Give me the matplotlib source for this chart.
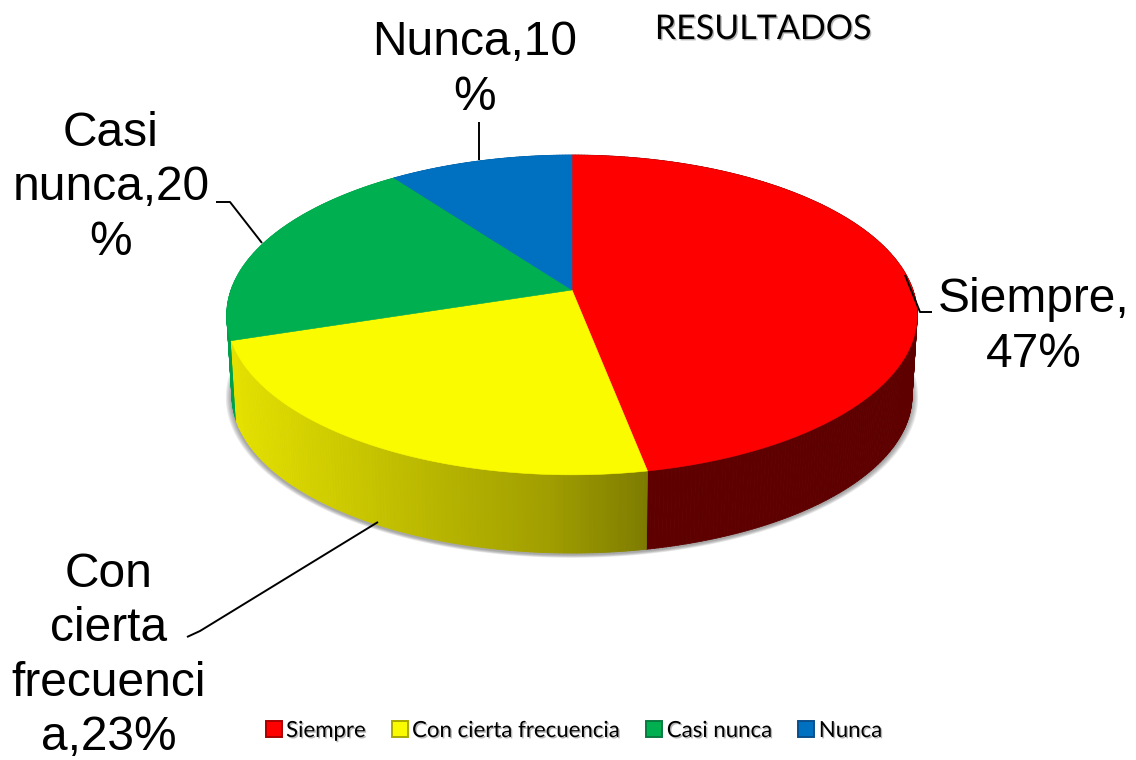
import numpy as np
import matplotlib
matplotlib.use("Agg")
import matplotlib.pyplot as plt
from matplotlib.patches import Patch, Polygon
from matplotlib.collections import PolyCollection
import matplotlib.patheffects as pe

categories = ["Siempre", "Con cierta frecuencia", "Casi nunca", "Nunca"]
shares = [47, 23, 20, 10]
top_colors = ["#fe0000", "#fbfb00", "#00b050", "#0070c0"]
legend_edges = ["#a80000", "#a8a800", "#0a7a40", "#0a4f8c"]
label_lines = ["Siempre,\n47%", "Con\ncierta\nfrecuenci\na,23%", "Casi\nnunca,20\n%", "Nunca,10\n%"]
label_pos = [(1034, 327), (109, 656), (111, 188), (475, 70)]
leaders = [[(905, 275), (920, 312), (932, 312)],
           [(187, 637), (200, 631), (378, 522)],
           [(216, 202), (230, 202), (262, 243)],
           [(479, 122), (479, 160)]]
title = "RESULTADOS"

# pie projection (pixel space)
CX, CY, A, B, K = 572, 290, 341, 156, 0.156
DEPTH_CY, DEPTH_S = 371, 0.985


def rim(t, cy=CY, s=1.0):
    u, v = np.sin(t), np.cos(t)
    w = 1 + K * v
    return CX + s * A * u / w, cy - s * B * v / w


def side_color(i, x):
    if i == 0:
        return "#5f0000"
    if i == 1:
        xs = [237, 400, 550, 646]
        c = np.interp(x, xs, [228, 192, 160, 126]) / 255
        return (c, c * 0.985, 0)
    if i == 2:
        return "#00a04a"
    return "#005a9c"


fig = plt.figure(figsize=(11.36, 7.6), dpi=100, facecolor="white")
ax = fig.add_axes([0, 0, 1, 1])
ax.set_xlim(0, 1136)
ax.set_ylim(760, 0)
ax.axis("off")

edges = np.cumsum([0] + shares) / sum(shares) * 2 * np.pi

# soft shadow beneath the disc
tt = np.linspace(0, 2 * np.pi, 361)
for g in range(5, 0, -1):
    sx, sy = rim(tt, DEPTH_CY + 1.5, DEPTH_S + 0.0035 * g)
    ax.add_patch(Polygon(np.c_[sx, sy], closed=True, fc="#555555", ec="none", alpha=0.13, zorder=1))

# side wall
strips = []
for i in range(len(shares)):
    n = max(int(shares[i] * 6), 4)
    ts = np.linspace(edges[i], edges[i + 1], n + 1)
    for a, b in zip(ts[:-1], ts[1:]):
        x1, y1 = rim(a)
        x2, y2 = rim(b)
        x3, y3 = rim(b, DEPTH_CY, DEPTH_S)
        x4, y4 = rim(a, DEPTH_CY, DEPTH_S)
        strips.append((max(y3, y4), [(x1, y1), (x2, y2), (x3, y3), (x4, y4)], side_color(i, (x1 + x2) / 2)))
strips.sort(key=lambda s: s[0])
ax.add_collection(PolyCollection([s[1] for s in strips], facecolors=[s[2] for s in strips],
                                 edgecolors=[s[2] for s in strips], linewidths=0.6, zorder=2))

# top faces
for i in range(len(shares)):
    ts = np.linspace(edges[i], edges[i + 1], 200)
    rx, ry = rim(ts)
    ax.add_patch(Polygon(np.r_[[(CX, CY)], np.c_[rx, ry]], closed=True, fc=top_colors[i],
                         ec=top_colors[i], lw=0.4, zorder=3))

# leader lines
for pts in leaders:
    p = np.array(pts)
    ax.plot(p[:, 0], p[:, 1], color="black", lw=1.4, zorder=4, solid_capstyle="butt")

# data labels
for txt, (x, y) in zip(label_lines, label_pos):
    ax.text(x, y, txt, ha="center", va="center", family="Liberation Sans", fontsize=34.5,
            linespacing=1.26, color="black", zorder=5)

shadow = [pe.SimplePatchShadow(offset=(1, -1), alpha=0.35, shadow_rgbFace="#333333"), pe.Normal()]
ax.text(763, 29, title, ha="center", va="center", family="Lato", fontsize=24.5, color="black",
        path_effects=shadow, zorder=5)

handles = [Patch(facecolor=c, edgecolor=e, linewidth=1.4) for c, e in zip(top_colors, legend_edges)]
leg = ax.legend(handles, categories, ncol=4, loc="center", bbox_to_anchor=(574 / 1136, 1 - 731 / 760),
                frameon=False, prop={"family": "Lato", "size": 16}, handlelength=0.72, handleheight=0.72,
                handletextpad=0.2, columnspacing=1.15, borderpad=0, borderaxespad=0)
for t in leg.get_texts():
    t.set_path_effects(shadow)

fig.savefig("out.png", dpi=100, facecolor="white")
